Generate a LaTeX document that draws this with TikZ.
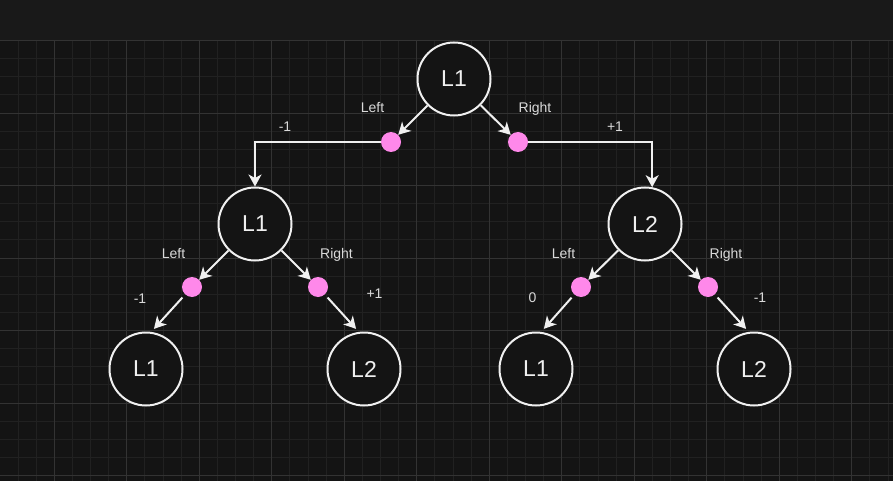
\documentclass[tikz,border=0pt]{standalone}
\usepackage{fontspec}
\setmainfont{Liberation Sans}
\usetikzlibrary{arrows.meta}
\definecolor{bgc}{HTML}{141414}
\definecolor{topc}{HTML}{191919}
\definecolor{minorc}{HTML}{212121}
\definecolor{majorc}{HTML}{333333}
\definecolor{linec}{HTML}{F0F0F0}
\definecolor{pinkc}{HTML}{FF88EA}
\definecolor{txtc}{HTML}{DADADA}
\begin{document}
\begin{tikzpicture}[x=1pt,y=-1pt,
 state/.style={circle,draw=linec,line width=2pt,fill=bgc,minimum size=73pt,inner sep=0pt,text=linec,font=\fontsize{23}{23}\selectfont},
 dot/.style={circle,fill=pinkc,draw=none,minimum size=20pt,inner sep=0pt},
 arr/.style={draw=linec,line width=2pt,-{Stealth[length=12pt,width=13pt,inset=3.5pt]}},
 low/.style={arr,shorten <=4pt,shorten >=4pt},
 lbl/.style={text=txtc,font=\fontsize{14}{14}\selectfont,anchor=base,inner sep=0pt},
 minor/.style={draw=minorc,line width=1pt},
 major/.style={draw=majorc,line width=1pt}]
\useasboundingbox (0,0) rectangle (893,481);
\fill[bgc] (0,0) rectangle (893,481);
\fill[topc] (0,0) rectangle (893,40.6);
% grid
\foreach \k in {-3,...,46} \draw[minor] ({54.3+18.125*\k},40.6) -- ({54.3+18.125*\k},481);
\foreach \k in {1,...,24} \draw[minor] (0,{40.6+18.125*\k}) -- (893,{40.6+18.125*\k});
\foreach \k in {0,4,...,44} \draw[major] ({54.3+18.125*\k},40.6) -- ({54.3+18.125*\k},481);
\foreach \k in {4,8,...,24} \draw[major] (0,{40.6+18.125*\k}) -- (893,{40.6+18.125*\k});
\draw[majorc,line width=1.5pt] (0,40.6) -- (893,40.6);
% nodes
\node[state] (r) at (454,79) {L1};
\node[state] (a) at (255,224) {L1};
\node[state] (b) at (645,224) {L2};
\node[state] (c1) at (146,369) {L1};
\node[state] (c2) at (364,369) {L2};
\node[state] (c3) at (536,369) {L1};
\node[state] (c4) at (754,369) {L2};
\node[dot] (d1) at (391,142) {};
\node[dot] (d2) at (518,142) {};
\node[dot] (d3) at (192,287) {};
\node[dot] (d4) at (318,287) {};
\node[dot] (d5) at (581,287) {};
\node[dot] (d6) at (708,287) {};
% edges
\draw[arr] (r) -- (d1);
\draw[arr] (r) -- (d2);
\draw[arr] (d1) -| (a);
\draw[arr] (d2) -| (b.79);
\draw[arr] (a) -- (d3);
\draw[arr] (a) -- (d4);
\draw[low] (d3) -- (c1.82);
\draw[low] (d4) -- (c2.98);
\draw[arr] (b) -- (d5);
\draw[arr] (b) -- (d6);
\draw[low] (d5) -- (c3.82);
\draw[low] (d6) -- (c4.98);
% labels
\node[lbl] (t1) at (372.5,113) {Left};
\node[lbl] (t2) at (535,113) {Right};
\node[lbl] (t3) at (285,132) {-1};
\node[lbl] (t4) at (615,132) {+1};
\node[lbl] (t5) at (173.5,258) {Left};
\node[lbl] (t6) at (336.5,258) {Right};
\node[lbl] (t7) at (140,303) {-1};
\node[lbl] (t8) at (374.5,298) {+1};
\node[lbl] (t9) at (563.5,258) {Left};
\node[lbl] (t10) at (726,258) {Right};
\node[lbl] (t11) at (532.5,302) {0};
\node[lbl] (t12) at (760,302) {-1};
\end{tikzpicture}
\end{document}
